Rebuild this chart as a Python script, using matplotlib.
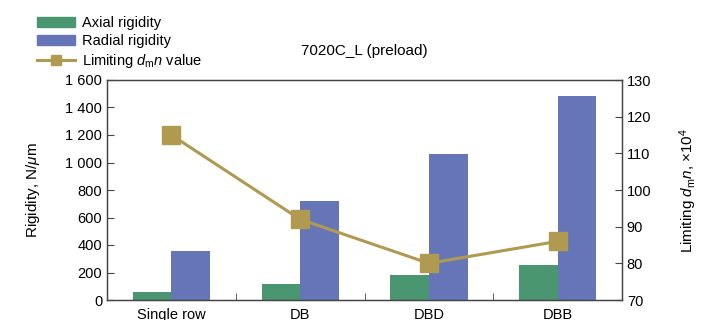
import matplotlib.pyplot as plt
import numpy as np
from matplotlib.lines import Line2D
from matplotlib.patches import Patch

plt.rcParams['font.family'] = ['Liberation Sans', 'DejaVu Sans']
plt.rcParams['mathtext.fontset'] = 'custom'
plt.rcParams['mathtext.rm'] = 'Liberation Sans'
plt.rcParams['mathtext.it'] = 'Liberation Sans:italic'

# data
categories = ['Single row', 'DB', 'DBD', 'DBB']
axial = [55, 120, 180, 257]
radial = [358, 720, 1065, 1480]
dmn_limit = [115, 92, 80, 86]

GREEN = '#4a9670'
BLUE = '#6675b8'
GOLD = '#b09a50'

fig = plt.figure(figsize=(7.08, 3.2), dpi=100)
ax = fig.add_axes([107 / 708, 20 / 320, 515 / 708, 220 / 320])

x = np.arange(len(categories))
w = 0.3
ax.bar(x - w / 2, axial, w, color=GREEN, zorder=2)
ax.bar(x + w / 2, radial, w, color=BLUE, zorder=2)

ax.set_xlim(-0.5, len(categories) - 0.5)
ax.set_ylim(0, 1600)
ax.set_yticks(range(0, 1601, 200))
ax.set_yticklabels(['0', '200', '400', '600', '800', '1 000', '1 200', '1 400', '1 600'])
ax.set_xticks(x)
ax.set_xticklabels(categories)
ax.set_xticks(np.arange(0.5, len(categories) - 1, 1), minor=True)
ax.tick_params(axis='x', which='major', length=0, labelsize=10.5, pad=6)
ax.tick_params(axis='x', which='minor', direction='in', length=5, color='#444444')
ax.tick_params(axis='y', direction='in', length=5, labelsize=10.5, color='#444444')
ax.set_ylabel('Rigidity, N/$\\mathit{\\mu}$m', fontsize=11, labelpad=17)
for s in ax.spines.values():
    s.set_color('#444444')
    s.set_linewidth(0.9)

ax2 = ax.twinx()
ax2.plot(x, dmn_limit, color=GOLD, lw=2.2, marker='s', markersize=13, zorder=3)
ax2.set_ylim(70, 130)
ax2.set_yticks(range(70, 131, 10))
ax2.tick_params(axis='y', direction='in', length=5, labelsize=10.5, color='#444444')
ax2.set_ylabel('Limiting $d_{\\mathrm{m}}n$, ×10$^4$', fontsize=11, labelpad=19)
for s in ax2.spines.values():
    s.set_color('#444444')
    s.set_linewidth(0.9)

ax.set_title('7020C_L (preload)', fontsize=11, pad=18)

handles = [
    Patch(color=GREEN),
    Patch(color=BLUE),
    Line2D([0], [0], color=GOLD, lw=2.2, marker='s', markersize=7.5),
]
labels = ['Axial rigidity', 'Radial rigidity', 'Limiting $d_{\\mathrm{m}}n$ value']
fig.legend(handles, labels, loc='upper left', bbox_to_anchor=(28 / 708, 1 - 7 / 320),
           frameon=False, fontsize=10.5, handlelength=2.6, labelspacing=0.28,
           handletextpad=0.5, borderaxespad=0.2)

fig.savefig('out.png', dpi=100)
